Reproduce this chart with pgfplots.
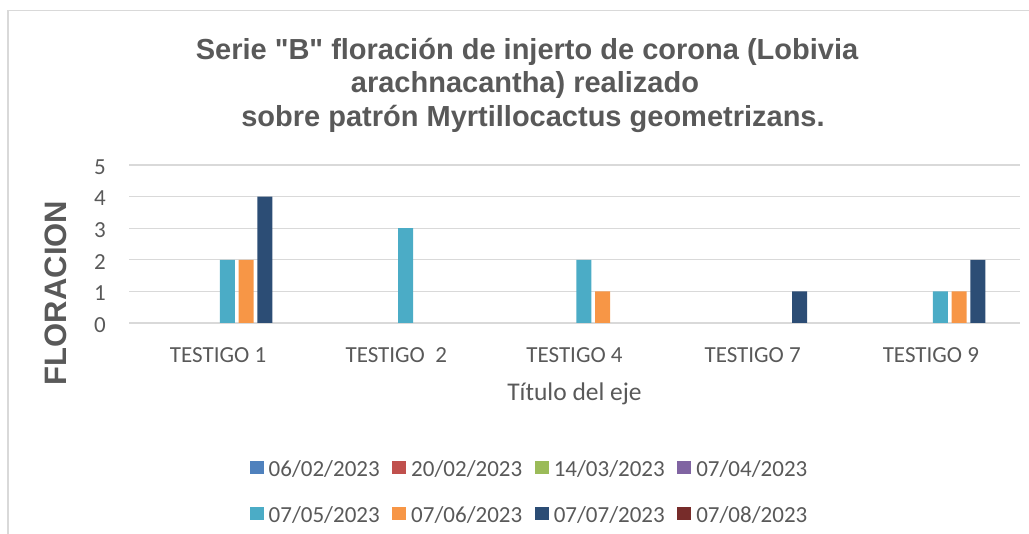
\documentclass[border=0pt]{standalone}
\usepackage{fontspec}
\setmainfont{Carlito}
\newfontfamily\titlefont{Liberation Sans}
\usepackage{pgfplots}
\pgfplotsset{compat=1.18}

\definecolor{sA}{HTML}{4F81BD}
\definecolor{sB}{HTML}{C0504D}
\definecolor{sC}{HTML}{9BBB59}
\definecolor{sD}{HTML}{8064A2}
\definecolor{sE}{HTML}{4BACC6}
\definecolor{sF}{HTML}{F79646}
\definecolor{sG}{HTML}{2C4D75}
\definecolor{sH}{HTML}{772C2A}
\definecolor{txt}{HTML}{595959}
\definecolor{gridc}{HTML}{D9D9D9}

\begin{document}
\begin{tikzpicture}[x=1pt,y=1pt]
\path[use as bounding box] (0,0) rectangle (1029,534);
% chart frame (cropped on the right and bottom)
\draw[gridc, line width=1.3pt] (8,-2) -- (8,523.5) -- (1031,523.5);

% title
\begin{scope}[every node/.style={font=\titlefont\bfseries\fontsize{29}{34}\selectfont, text=txt, anchor=base, inner sep=0pt}]
\node at (527,474.7) {Serie "B" floración de injerto de corona (Lobivia};
\node at (525,441) {arachnacantha) realizado};
\node at (533,407) {sobre patrón Myrtillocactus geometrizans.};
\end{scope}

% y label
\node[font=\titlefont\bfseries\fontsize{31}{36}\selectfont, text=txt, rotate=90, inner sep=0pt] at (55.5,241) {FLORACION};

\begin{axis}[
    at={(129pt,211pt)}, anchor=south west,
    width=891pt, height=158pt, scale only axis,
    ybar, bar width=15pt,
    xmin=-0.5, xmax=4.5,
    ymin=0, ymax=5,
    % zero values give no bar (as in the original)
    y filter/.expression={y==0 ? nan : y}, unbounded coords=discard,
    xtick={0,1,2,3,4},
    xticklabels={TESTIGO 1,TESTIGO\ \ 2,TESTIGO 4,TESTIGO 7,TESTIGO 9},
    ytick={0,1,2,3,4,5},
    major tick length=0pt,
    axis line style={draw=none},
    ymajorgrids, grid style={gridc, line width=1.3pt},
    /pgf/number format/assume math mode=true,
    tick label style={font=\fontsize{23}{27}\selectfont, text=txt, inner sep=0pt},
    xticklabel style={anchor=base, yshift=-40pt},
    yticklabel style={anchor=east, xshift=-23pt, yshift=-2pt},
    xlabel={Título del eje},
    xlabel style={at={(axis description cs:0.5,0)}, anchor=base, yshift=-78pt,
        inner sep=0pt, font=\fontsize{25.5}{30}\selectfont, text=txt},
    legend columns=4,
    legend style={
        at={(0.4484,-0.873)}, anchor=north,
        draw=none, fill=none, inner sep=0pt,
        font=\fontsize{23}{27}\selectfont, text=txt,
        column sep=5pt, row sep=26pt,
        nodes={inner sep=0pt, text height=15pt, text depth=4pt},
        /tikz/every even column/.append style={column sep=12.5pt},
    },
    legend image code/.code={\fill[#1] (0pt,-3pt) rectangle (14pt,10pt);},
]
% series with no bar at all get their legend entry from \addlegendimage
\addplot[fill=sA, draw=none, bar shift=-65.625pt] coordinates {(0,0)(1,0)(2,0)(3,0)(4,0)};
\addlegendimage{fill=sA, draw=none}
\addplot[fill=sB, draw=none, bar shift=-46.875pt] coordinates {(0,0)(1,0)(2,0)(3,0)(4,0)};
\addlegendimage{fill=sB, draw=none}
\addplot[fill=sC, draw=none, bar shift=-28.125pt] coordinates {(0,0)(1,0)(2,0)(3,0)(4,0)};
\addlegendimage{fill=sC, draw=none}
\addplot[fill=sD, draw=none, bar shift=-9.375pt] coordinates {(0,0)(1,0)(2,0)(3,0)(4,0)};
\addlegendimage{fill=sD, draw=none}
\addplot[fill=sE, draw=none, bar shift=9.375pt] coordinates {(0,2)(1,3)(2,2)(3,0)(4,1)};
\addplot[fill=sF, draw=none, bar shift=28.125pt] coordinates {(0,2)(1,0)(2,1)(3,0)(4,1)};
\addplot[fill=sG, draw=none, bar shift=46.875pt] coordinates {(0,4)(1,0)(2,0)(3,1)(4,2)};
\addplot[fill=sH, draw=none, bar shift=65.625pt] coordinates {(0,0)(1,0)(2,0)(3,0)(4,0)};
\addlegendimage{fill=sH, draw=none}
\legend{06/02/2023,20/02/2023,14/03/2023,07/04/2023,07/05/2023,07/06/2023,07/07/2023,07/08/2023}
\end{axis}
\end{tikzpicture}
\end{document}
